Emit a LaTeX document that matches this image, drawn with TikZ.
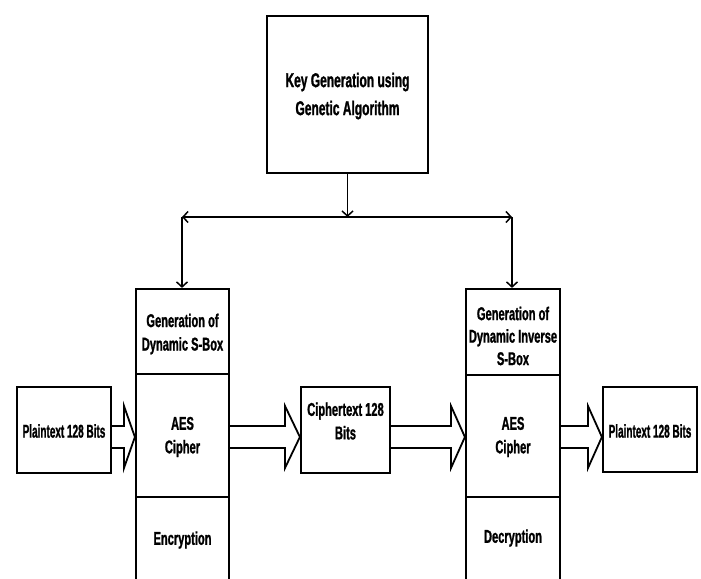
\documentclass[tikz,border=0pt]{standalone}
\usepackage{fontspec}
\setmainfont{Liberation Sans}[FakeStretch=0.6, BoldFeatures={FakeBold=1.2}]
\usetikzlibrary{arrows.meta}
\begin{document}
\begin{tikzpicture}[x=1pt,y=-1pt,
  box/.style={draw,line width=2.2pt,inner sep=0pt,align=center},
  lbl/.style={align=center,inner sep=0pt,font=\bfseries\fontsize{18.5}{23.5}\selectfont},
  keylbl/.style={align=center,inner sep=0pt,font=\bfseries\fontsize{20}{28}\selectfont},
  conn/.style={line width=1.8pt,{Straight Barb[length=5pt,width=11pt,line width=1.5pt]}-{Straight Barb[length=5pt,width=11pt,line width=1.5pt]}},
  dconn/.style={line width=1.8pt,-{Straight Barb[length=5pt,width=11pt,line width=1.5pt]}},
  barrow/.style={draw,line width=1.8pt,fill=white,line join=miter}]
\useasboundingbox (0,0) rectangle (701,578);
\clip (0,0) rectangle (701,578);
% key box
\node[box,minimum width=161,minimum height=157] (key) at (347.5,94.5) {};
\node[keylbl] (keytxt) at (347.5,96) {Key Generation using\\Genetic Algorithm};
% columns
\node[box,minimum width=93,minimum height=85] (gl) at (182.5,331.5) {};
\node[lbl] (gltxt) at (182.5,334) {Generation of\\Dynamic S-Box};
\node[box,minimum width=93,minimum height=123] (al) at (182.5,435.5) {};
\node[lbl] (altxt) at (182.5,437) {AES\\Cipher};
\node[box,minimum width=93,minimum height=100] (el) at (182.5,547) {};
\node[lbl] (eltxt) at (182.5,540) {Encryption};
\node[box,minimum width=94,minimum height=86] (gr) at (513,332) {};
\node[lbl,font=\bfseries\fontsize{18.5}{22.5}\selectfont] (grtxt) at (513,336) {Generation of\\Dynamic Inverse\\S-Box};
\node[box,minimum width=94,minimum height=122] (ar) at (513,436) {};
\node[lbl] (artxt) at (513,437) {AES\\Cipher};
\node[box,minimum width=94,minimum height=100] (dr) at (513,547) {};
\node[lbl] (drtxt) at (513,538) {Decryption};
% side boxes
\node[box,minimum width=94,minimum height=86] (p1) at (64,430) {};
\node[lbl] (p1txt) at (64,431) {\scalebox{0.9}[1]{Plaintext 128 Bits}};
\node[box,minimum width=89,minimum height=86] (ct) at (345.5,430) {};
\node[lbl] (cttxt) at (345.5,421) {Ciphertext 128\\Bits};
\node[box,minimum width=94,minimum height=85] (p2) at (650,429.5) {};
\node[lbl] (p2txt) at (650,431) {\scalebox{0.9}[1]{Plaintext 128 Bits}};
% connectors
\coordinate (bl) at (182,217);
\coordinate (br) at (512,217);
\coordinate (bm) at (347.5,217);
\draw[conn] (bl) -- (br);
\draw[dconn] (key.south) -- (bm);
\draw[dconn] (bl) -- (bl |- gl.north);
\draw[dconn] (br) -- (br |- gr.north);
% block arrows
\draw[barrow] (p1.east |- 0,426) -- (124,426) -- (124,406) -- (al.west |- 0,437) -- (124,468) -- (124,448) -- (p1.east |- 0,448);
\draw[barrow] (al.east |- 0,426) -- (285,426) -- (285,406) -- (ct.west |- 0,437) -- (285,468) -- (285,448) -- (al.east |- 0,448);
\draw[barrow] (ct.east |- 0,426) -- (451,426) -- (451,406) -- (ar.west |- 0,437) -- (451,468) -- (451,448) -- (ct.east |- 0,448);
\draw[barrow] (ar.east |- 0,426) -- (588,426) -- (588,406) -- (p2.west |- 0,437) -- (588,468) -- (588,448) -- (ar.east |- 0,448);
\end{tikzpicture}
\end{document}
